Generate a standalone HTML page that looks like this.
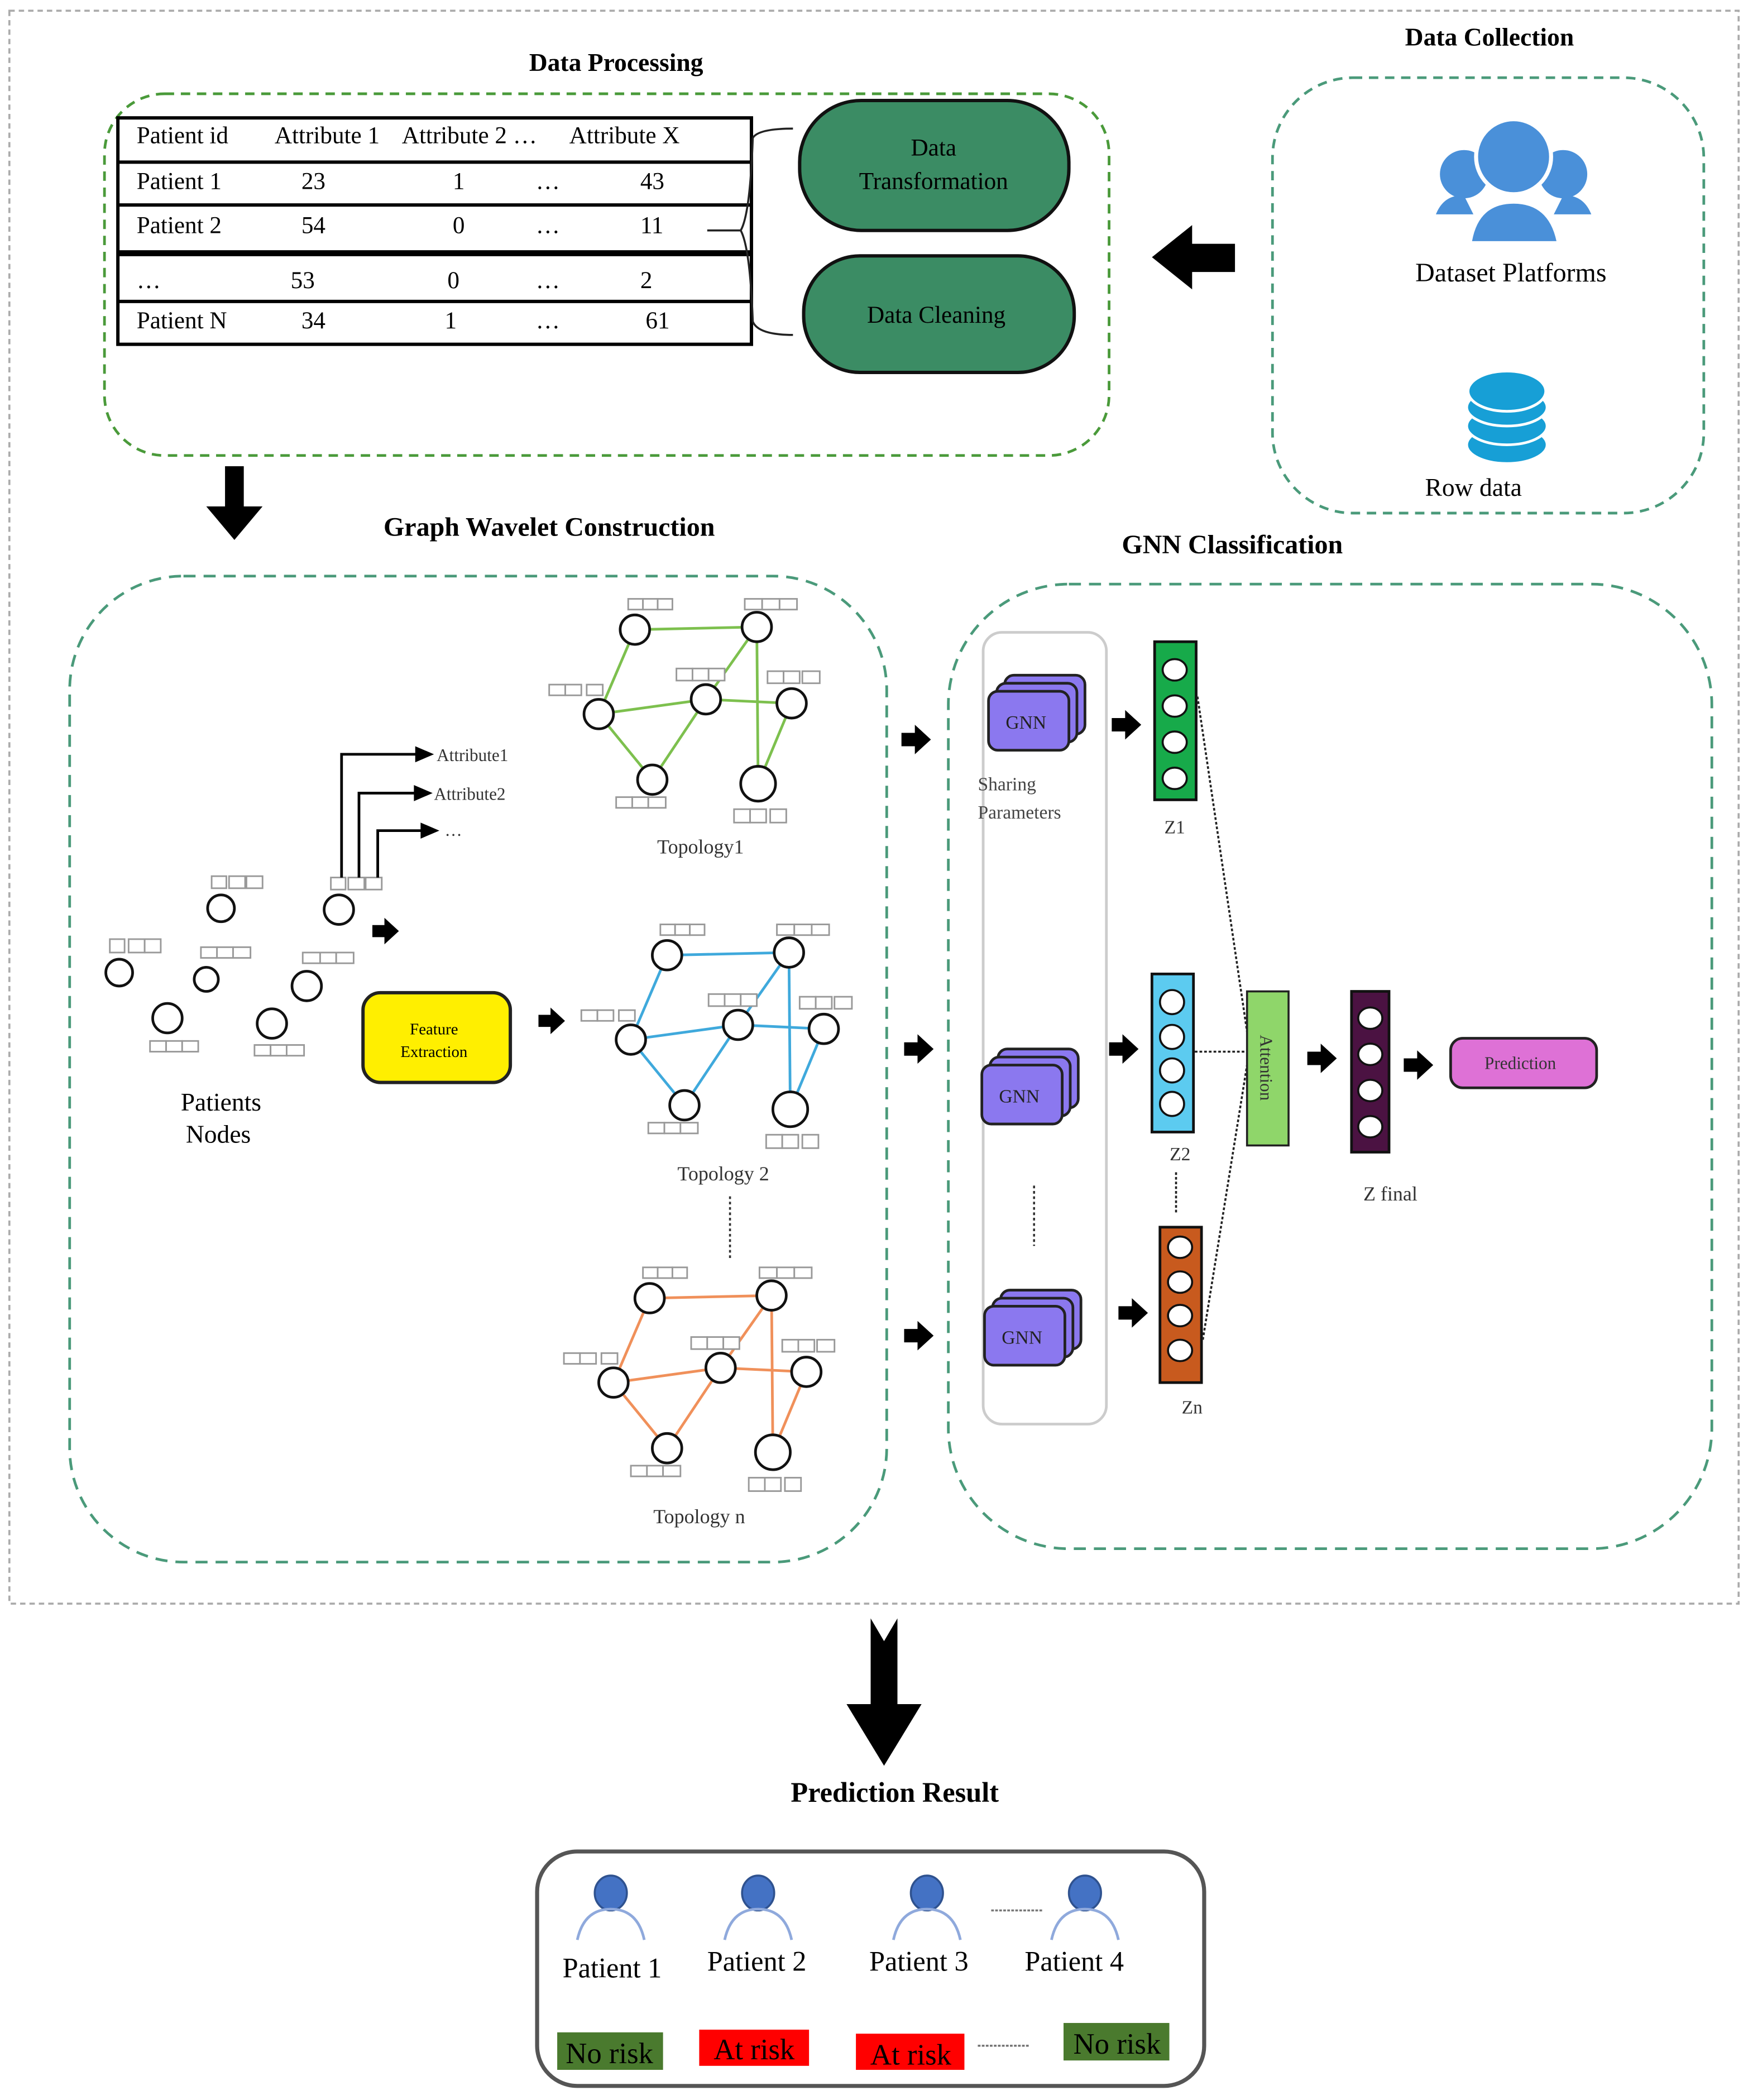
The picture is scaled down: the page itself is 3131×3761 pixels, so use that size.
<!DOCTYPE html>
<html><head><meta charset="utf-8"><style>
html,body{margin:0;padding:0;background:#fff;}
svg{display:block;}
text{font-family:"Liberation Serif",serif;}
</style></head><body>
<svg width="3131" height="3761" viewBox="0 0 1305 1567.5" preserveAspectRatio="none" xmlns="http://www.w3.org/2000/svg">
<defs>
<g id="topo">
  <g stroke-width="2">
    <line x1="474" y1="470" x2="565" y2="468"/>
    <line x1="474" y1="470" x2="447" y2="533"/>
    <line x1="447" y1="533" x2="527" y2="522"/>
    <line x1="527" y1="522" x2="565" y2="468"/>
    <line x1="565" y1="468" x2="566" y2="585"/>
    <line x1="447" y1="533" x2="487" y2="582"/>
    <line x1="487" y1="582" x2="527" y2="522"/>
    <line x1="527" y1="522" x2="591" y2="525"/>
    <line x1="591" y1="525" x2="566" y2="585"/>
  </g>
  <g fill="#fff" stroke="#111" stroke-width="2">
    <circle cx="474" cy="470" r="11"/>
    <circle cx="565" cy="468" r="11"/>
    <circle cx="447" cy="533" r="11"/>
    <circle cx="527" cy="522" r="11"/>
    <circle cx="591" cy="525" r="11"/>
    <circle cx="487" cy="582" r="11"/>
    <circle cx="566" cy="585" r="13"/>
  </g>
  <g fill="#fff" stroke="#999" stroke-width="1.2">
    <rect x="469" y="447" width="11" height="8"/><rect x="480" y="447" width="11" height="8"/><rect x="491" y="447" width="11" height="8"/>
    <rect x="556" y="447" width="13" height="8"/><rect x="569" y="447" width="13" height="8"/><rect x="582" y="447" width="13" height="8"/>
    <rect x="410" y="511" width="12" height="8"/><rect x="422" y="511" width="12" height="8"/><rect x="438" y="511" width="12" height="8"/>
    <rect x="505" y="499" width="12" height="9"/><rect x="517" y="499" width="12" height="9"/><rect x="529" y="499" width="12" height="9"/>
    <rect x="573" y="501" width="12" height="9"/><rect x="585" y="501" width="12" height="9"/><rect x="599" y="501" width="13" height="9"/>
    <rect x="460" y="595" width="12" height="8"/><rect x="472" y="595" width="12" height="8"/><rect x="484" y="595" width="13" height="8"/>
    <rect x="548" y="604" width="12" height="10"/><rect x="560" y="604" width="12" height="10"/><rect x="575" y="604" width="12" height="10"/>
  </g>
</g>
<g id="gnn">
  <rect x="12" y="-12" width="60" height="44" rx="7" fill="#8b78ef" stroke="#222" stroke-width="2"/>
  <rect x="6" y="-6" width="60" height="44" rx="7" fill="#8b78ef" stroke="#222" stroke-width="2"/>
  <rect x="0" y="0" width="60" height="44" rx="7" fill="#8b78ef" stroke="#222" stroke-width="2"/>
  <text x="28" y="28" font-size="14" text-anchor="middle" fill="#222">GNN</text>
</g>
<g id="ar">
  <path d="M0,-5 L10,-5 L10,-11 L22,0 L10,11 L10,5 L0,5 Z" fill="#000"/>
</g>
<g id="person">
  <ellipse cx="0" cy="0" rx="12" ry="13" fill="#4472c4" stroke="#2f528f" stroke-width="1.5"/>
  <path d="M-25,35 Q-20,12 0,12 Q20,12 25,35" fill="none" stroke="#8fa9dc" stroke-width="2"/>
</g>
</defs>

<!-- outer dashed -->
<rect x="7" y="8" width="1291" height="1189" fill="none" stroke="#aaa" stroke-width="1.5" stroke-dasharray="4,3"/>

<!-- Data processing -->
<text x="460" y="53" font-size="19" font-weight="bold" text-anchor="middle">Data Processing</text>
<rect x="78" y="70" width="750" height="270" rx="45" fill="none" stroke="#4a9a3a" stroke-width="2" stroke-dasharray="7,5"/>
<g stroke="#000" stroke-width="2.5" fill="none">
  <rect x="88" y="88" width="473" height="169" fill="#fff"/>
  <line x1="88" y1="121" x2="561" y2="121"/>
  <line x1="88" y1="153" x2="561" y2="153"/>
  <line x1="88" y1="188" x2="561" y2="188"/>
  <line x1="88" y1="190" x2="561" y2="190"/>
  <line x1="88" y1="225" x2="561" y2="225"/>
</g>
<g font-size="18" fill="#000">
  <text x="102" y="107">Patient id</text><text x="205" y="107">Attribute 1</text><text x="300" y="107">Attribute 2 …</text><text x="425" y="107">Attribute X</text>
  <text x="102" y="141">Patient 1</text><text x="225" y="141">23</text><text x="338" y="141">1</text><text x="400" y="141">…</text><text x="478" y="141">43</text>
  <text x="102" y="174">Patient 2</text><text x="225" y="174">54</text><text x="338" y="174">0</text><text x="400" y="174">…</text><text x="478" y="174">11</text>
  <text x="102" y="215">…</text><text x="217" y="215">53</text><text x="334" y="215">0</text><text x="400" y="215">…</text><text x="478" y="215">2</text>
  <text x="102" y="245">Patient N</text><text x="225" y="245">34</text><text x="332" y="245">1</text><text x="400" y="245">…</text><text x="482" y="245">61</text>
</g>
<path d="M562,103 Q566,96 592,96 M528,172 L553,172 Q560,160 562,103 M553,172 Q560,185 562,240 Q566,250 592,250" fill="none" stroke="#222" stroke-width="1.5"/>
<rect x="597" y="75" width="201" height="97" rx="46" fill="#3b8c64" stroke="#111" stroke-width="2.5"/>
<text x="697" y="116" font-size="18" text-anchor="middle">Data</text>
<text x="697" y="141" font-size="18" text-anchor="middle">Transformation</text>
<rect x="600" y="191" width="202" height="87" rx="42" fill="#3b8c64" stroke="#111" stroke-width="2.5"/>
<text x="699" y="241" font-size="18" text-anchor="middle">Data Cleaning</text>

<!-- left arrow -->
<path d="M922,182 L890,182 L890,168 L860,192 L890,216 L890,203 L922,203 Z" fill="#000"/>

<!-- Data collection -->
<text x="1112" y="34" font-size="19" font-weight="bold" text-anchor="middle">Data Collection</text>
<rect x="950" y="58" width="322" height="325" rx="60" fill="none" stroke="#4a9a7a" stroke-width="2" stroke-dasharray="7,5"/>
<g fill="#4a90d9">
  <circle cx="1093" cy="130" r="18"/><path d="M1072,160 Q1078,145 1093,146 L1100,160 Z"/>
  <circle cx="1167" cy="130" r="18"/><path d="M1188,160 Q1182,145 1167,146 L1160,160 Z"/>
  <circle cx="1130" cy="117" r="28" stroke="#fff" stroke-width="3"/>
  <path d="M1100,150 Q1130,165 1160,150 L1158,146 Q1130,160 1102,146 Z" fill="#fff"/>
  <path d="M1099,180 Q1104,152 1130,152 Q1156,152 1162,180 Z"/>
</g>
<text x="1128" y="210" font-size="20" text-anchor="middle">Dataset Platforms</text>
<g fill="#179fd6" stroke="#fff" stroke-width="2">
  <ellipse cx="1125" cy="332" rx="30" ry="14"/>
  <ellipse cx="1125" cy="318" rx="30" ry="14"/>
  <ellipse cx="1125" cy="304" rx="30" ry="14"/>
  <ellipse cx="1125" cy="292" rx="29" ry="15"/>
</g>
<text x="1100" y="370" font-size="19" text-anchor="middle">Row data</text>

<!-- down arrow -->
<path d="M168,348 L182,348 L182,378 L196,378 L175,403 L154,378 L168,378 Z" fill="#000"/>

<text x="410" y="400" font-size="20" font-weight="bold" text-anchor="middle">Graph Wavelet Construction</text>
<text x="920" y="413" font-size="20" font-weight="bold" text-anchor="middle">GNN Classification</text>

<!-- graph box -->
<rect x="52" y="430" width="610" height="736" rx="85" fill="none" stroke="#4a9a7a" stroke-width="2" stroke-dasharray="9,6"/>

<g stroke="#7dc04e"><use href="#topo"/></g>
<g stroke="#3fa9dc"><use href="#topo" transform="translate(24,243)"/></g>
<g stroke="#f0905a"><use href="#topo" transform="translate(11,499)"/></g>
<text x="523" y="637" font-size="15" text-anchor="middle" fill="#333">Topology1</text>
<text x="540" y="881" font-size="15" text-anchor="middle" fill="#333">Topology  2</text>
<text x="522" y="1137" font-size="15" text-anchor="middle" fill="#333">Topology  n</text>
<line x1="545" y1="893" x2="545" y2="940" stroke="#333" stroke-width="1.5" stroke-dasharray="2,2"/>

<!-- patient nodes -->
<g fill="#fff" stroke="#111" stroke-width="2">
  <circle cx="165" cy="678" r="10"/><circle cx="253" cy="679" r="11"/>
  <circle cx="89" cy="726" r="10"/><circle cx="154" cy="731" r="9"/>
  <circle cx="229" cy="736" r="11"/><circle cx="125" cy="760" r="11"/>
  <circle cx="203" cy="764" r="11"/>
</g>
<g fill="#fff" stroke="#999" stroke-width="1.2">
  <rect x="158" y="654" width="11" height="9"/><rect x="171" y="654" width="12" height="9"/><rect x="184" y="654" width="12" height="9"/>
  <rect x="247" y="655" width="11" height="9"/><rect x="260" y="655" width="12" height="9"/><rect x="273" y="655" width="12" height="9"/>
  <rect x="82" y="701" width="11" height="10"/><rect x="96" y="701" width="12" height="10"/><rect x="108" y="701" width="12" height="10"/>
  <rect x="150" y="707" width="12" height="8"/><rect x="162" y="707" width="12" height="8"/><rect x="174" y="707" width="13" height="8"/>
  <rect x="226" y="711" width="13" height="8"/><rect x="239" y="711" width="12" height="8"/><rect x="251" y="711" width="13" height="8"/>
  <rect x="112" y="777" width="12" height="8"/><rect x="124" y="777" width="12" height="8"/><rect x="136" y="777" width="12" height="8"/>
  <rect x="190" y="780" width="12" height="8"/><rect x="202" y="780" width="12" height="8"/><rect x="214" y="780" width="13" height="8"/>
</g>
<text x="165" y="829" font-size="19" text-anchor="middle">Patients</text>
<text x="163" y="853" font-size="19" text-anchor="middle">Nodes</text>
<g stroke="#000" stroke-width="2" fill="none">
  <path d="M255,655 L255,563 L312,563"/>
  <path d="M268,655 L268,592 L311,592"/>
  <path d="M282,655 L282,620 L316,620"/>
</g>
<g fill="#000">
  <path d="M310,557 L324,563 L310,569 Z"/>
  <path d="M309,586 L323,592 L309,598 Z"/>
  <path d="M314,614 L328,620 L314,626 Z"/>
</g>
<text x="326" y="568" font-size="13" fill="#333">Attribute1</text>
<text x="324" y="597" font-size="13" fill="#333">Attribute2</text>
<text x="332" y="624" font-size="13" fill="#333">…</text>
<use href="#ar" transform="translate(278,695) scale(0.9)"/>
<rect x="271" y="741" width="110" height="67" rx="13" fill="#ffef00" stroke="#222" stroke-width="2.5"/>
<text x="324" y="772" font-size="12" text-anchor="middle">Feature</text>
<text x="324" y="789" font-size="12" text-anchor="middle">Extraction</text>
<use href="#ar" transform="translate(402,762) scale(0.9)"/>

<!-- GNN box -->
<rect x="708" y="436" width="570" height="720" rx="90" fill="none" stroke="#4a9a7a" stroke-width="2" stroke-dasharray="9,6"/>
<use href="#ar" transform="translate(673,552)"/>
<use href="#ar" transform="translate(675,783)"/>
<use href="#ar" transform="translate(675,997)"/>
<rect x="734" y="472" width="92" height="591" rx="14" fill="none" stroke="#ccc" stroke-width="2"/>
<use href="#gnn" transform="translate(738,516)"/>
<use href="#gnn" transform="translate(733,795)"/>
<use href="#gnn" transform="translate(735,975)"/>
<text x="730" y="590" font-size="14" fill="#444">Sharing</text>
<text x="730" y="611" font-size="14" fill="#444">Parameters</text>
<line x1="772" y1="885" x2="772" y2="930" stroke="#333" stroke-width="1.5" stroke-dasharray="2,2"/>
<use href="#ar" transform="translate(830,541)"/>
<use href="#ar" transform="translate(828,783)"/>
<use href="#ar" transform="translate(835,980)"/>

<rect x="862" y="479" width="31" height="118" fill="#17aa4a" stroke="#111" stroke-width="2"/>
<rect x="860" y="727" width="31" height="118" fill="#5ccbf0" stroke="#111" stroke-width="2"/>
<rect x="866" y="916" width="31" height="116" fill="#c85a1e" stroke="#111" stroke-width="2"/>
<g fill="#fff" stroke="#111" stroke-width="1.5">
  <ellipse cx="877" cy="500" rx="9" ry="8"/><ellipse cx="877" cy="527" rx="9" ry="8"/><ellipse cx="877" cy="554" rx="9" ry="8"/><ellipse cx="877" cy="581" rx="9" ry="8"/>
  <ellipse cx="875" cy="748" rx="9" ry="9"/><ellipse cx="875" cy="774" rx="9" ry="9"/><ellipse cx="875" cy="799" rx="9" ry="9"/><ellipse cx="875" cy="824" rx="9" ry="9"/>
  <ellipse cx="881" cy="931" rx="9" ry="8"/><ellipse cx="881" cy="957" rx="9" ry="8"/><ellipse cx="881" cy="982" rx="9" ry="8"/><ellipse cx="881" cy="1008" rx="9" ry="8"/>
</g>
<text x="877" y="622" font-size="14" text-anchor="middle" fill="#333">Z1</text>
<text x="881" y="866" font-size="14" text-anchor="middle" fill="#333">Z2</text>
<text x="890" y="1055" font-size="14" text-anchor="middle" fill="#333">Zn</text>
<g stroke="#222" stroke-width="1.5" stroke-dasharray="2,1.5" fill="none">
  <line x1="894" y1="520" x2="931" y2="770"/>
  <line x1="892" y1="785" x2="931" y2="785"/>
  <line x1="898" y1="1000" x2="931" y2="795"/>
  <line x1="878" y1="875" x2="878" y2="905"/>
</g>
<rect x="931" y="740" width="31" height="115" fill="#8fd66a" stroke="#222" stroke-width="1.5"/>
<text transform="translate(941,797) rotate(90)" font-size="13" text-anchor="middle" fill="#333">Attention</text>
<use href="#ar" transform="translate(976,790)"/>
<rect x="1009" y="740" width="28" height="120" fill="#4b1242" stroke="#111" stroke-width="2"/>
<g fill="#fff" stroke="#111" stroke-width="1.5">
  <ellipse cx="1023" cy="760" rx="9" ry="8"/><ellipse cx="1023" cy="787" rx="9" ry="8"/><ellipse cx="1023" cy="814" rx="9" ry="8"/><ellipse cx="1023" cy="841" rx="9" ry="8"/>
</g>
<text x="1038" y="896" font-size="15" text-anchor="middle" fill="#333">Z final</text>
<use href="#ar" transform="translate(1048,795)"/>
<rect x="1083" y="775" width="109" height="37" rx="9" fill="#de71d6" stroke="#222" stroke-width="2"/>
<text x="1135" y="798" font-size="13" text-anchor="middle" fill="#333">Prediction</text>

<!-- big down arrow -->
<path d="M650,1208 L660,1225 L670,1208 L670,1272 L688,1272 L660,1318 L632,1272 L650,1272 Z" fill="#000"/>
<text x="668" y="1345" font-size="21" font-weight="bold" text-anchor="middle">Prediction Result</text>
<rect x="401" y="1382" width="498" height="175" rx="30" fill="none" stroke="#555" stroke-width="3"/>
<use href="#person" transform="translate(456,1413)"/>
<use href="#person" transform="translate(566,1413)"/>
<use href="#person" transform="translate(692,1413)"/>
<use href="#person" transform="translate(810,1413)"/>
<line x1="740" y1="1426" x2="778" y2="1426" stroke="#777" stroke-width="1.5" stroke-dasharray="2,1"/>
<g font-size="21" text-anchor="middle">
  <text x="457" y="1476">Patient 1</text>
  <text x="565" y="1471">Patient 2</text>
  <text x="686" y="1471">Patient 3</text>
  <text x="802" y="1471">Patient 4</text>
</g>
<rect x="416" y="1517" width="79" height="28" fill="#4a7a2e"/>
<rect x="522" y="1515" width="82" height="27" fill="#ff0000"/>
<rect x="639" y="1518" width="81" height="27" fill="#ff0000"/>
<rect x="794" y="1510" width="79" height="28" fill="#4a7a2e"/>
<line x1="730" y1="1527" x2="768" y2="1527" stroke="#777" stroke-width="1.5" stroke-dasharray="2,1"/>
<g font-size="22" text-anchor="middle" fill="#000">
  <text x="455" y="1540">No risk</text>
  <text x="563" y="1537">At risk</text>
  <text x="680" y="1541">At risk</text>
  <text x="834" y="1533">No risk</text>
</g>
</svg>
</body></html>
